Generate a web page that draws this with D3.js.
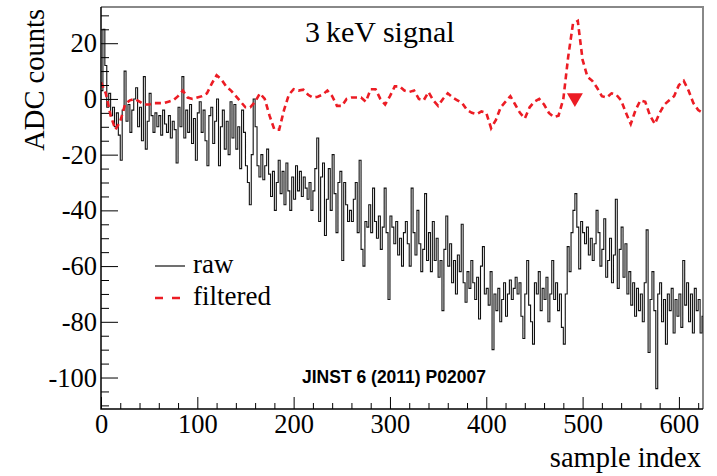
<!DOCTYPE html>
<html>
<head>
<meta charset="utf-8">
<script src="https://cdn.jsdelivr.net/npm/d3@7"></script>
<style>
  body { margin: 0; background: #fff; }
  svg { display: block; }
  .axis text { font-family: "Liberation Serif", "DejaVu Serif", serif; font-size: 26.5px; fill: #000; }
  .axis path { display: none; }
  .axis line { stroke: #000; stroke-width: 1; }
</style>
</head>
<body>
<div id="chart"></div>
<script>
// raw trace, one value per bin of 2 samples
const rawBinWidth = 2;
const rawValues = [
  3, 25, 12, -3, 2, -6, -3, -10, -5, -13,
  -22, -4, 10, -8, -2, -12, -4, 0, 4, -10,
  -3, -15, 8, -18, -8, 2, -6, -12, -5, -10,
  -6, -13, -4, -9, -12, -6, -14, -8, -11, -23,
  -3, -10, 8, -14, -4, -12, -2, -16, -7, -22,
  -5, -1, -12, -4, -15, -24, -6, -3, -16, -8,
  0, -24, -10, -4, -18, -8, -20, -1, -14, -2,
  -18, -10, -25, -4, -12, -24, -30, -38, -20, 0,
  -10, -24, -28, -20, -29, -24, -18, -27, -35, -26,
  -40, -30, -22, -34, -26, -38, -23, -33, -40, -28,
  -36, -24, -33, -26, -35, -28, -32, -36, -30, -40,
  -33, -25, -14, -44, -28, -23, -49, -36, -25, -40,
  -20, -34, -48, -30, -26, -58, -30, -38, -44, -40,
  -44, -36, -30, -48, -22, -54, -60, -44, -46, -38,
  -48, -32, -44, -50, -42, -54, -46, -32, -48, -72,
  -42, -46, -52, -44, -56, -50, -60, -48, -44, -52,
  -60, -32, -48, -56, -40, -52, -62, -54, -34, -58,
  -48, -62, -44, -58, -50, -64, -58, -76, -54, -42,
  -60, -52, -66, -58, -70, -56, -62, -45, -66, -73,
  -62, -68, -58, -66, -72, -64, -79, -60, -53, -70,
  -68, -74, -62, -90, -70, -76, -68, -80, -72, -66,
  -78, -70, -65, -72, -68, -64, -70, -66, -78, -86,
  -70, -58, -74, -80, -88, -66, -70, -62, -76, -68,
  -72, -64, -80, -70, -58, -72, -66, -76, -70, -82,
  -88, -70, -53, -62, -48, -40, -34, -46, -61, -44,
  -48, -52, -46, -56, -50, -58, -52, -40, -48, -60,
  -54, -43, -64, -58, -50, -66, -56, -36, -68, -54,
  -46, -64, -52, -70, -62, -74, -66, -78, -68, -76,
  -70, -80, -66, -47, -91, -72, -62, -76, -104, -70,
  -66, -80, -72, -88, -70, -76, -68, -84, -72, -78,
  -70, -82, -58, -74, -66, -80, -70, -84, -68, -76,
  -72, -84, -78
];

// filtered trace, one point every 5 samples
const filteredStep = 5;
const filteredValues = [
  6, 2, -6, -11, -8, -2, -0.5, 0, -1, -2,
  -2, -1.5, -1.5, -1.5, -1, -0.5, 1, 3, 0.5, 0,
  0.5, 1, 2, 5.5, 8.5, 7, 4.5, 3, 1, -1,
  -3, -3, -1, 2, 0, -6, -11, -11, -4, 1.5,
  3.5, 3, 3.3, 1.5, 0.5, 0.8, 1.5, 3, 1, -2.5,
  -2.5, 0, 0.5, 0.5, 0.5, -1, 3.5, 3.5, 0, -2,
  1, 4.5, 4.5, 3, 2.5, 3, 0, -0.5, 2.5, -0.5,
  -2.5, 0, 2, 0.5, -0.5, -1.5, -4, -5, -5.5, -4.5,
  -5, -10.5, -7.5, -3, -1, 1, -2, -5, -7, -3,
  -1, 0, -2, -5, -6.5, -6, 0, 15, 27, 28,
  14, 8, 6.5, 4, 1, 0.5, 2, 1.5, -0.5, -5,
  -9, -4, -0.5, -1, -6, -9, -5, -2, -0.5, 1,
  5, 6.5, 3, -1.5, -4, -5
];

// trigger marker
const triggerSample = [492];
const triggerValue = [0.4];

const xMajorTicks = [0, 100, 200, 300, 400, 500, 600];
const xMinorTicks = d3.range(0, 625, 20).filter(d => d % 100 !== 0);
const yMajorTicks = [-100, -80, -60, -40, -20, 0, 20];
const yMinorTicks = d3.range(-110, 35, 5).filter(d => d % 20 !== 0);

const width = 717;
const height = 476;
const margin = { top: 7, right: 14, bottom: 67, left: 101 };
const red = "#ec1c24";

const x = d3.scaleLinear()
  .domain([0, 625])
  .range([margin.left, width - margin.right]);

const y = d3.scaleLinear()
  .domain([-111.3, 33])
  .range([height - margin.bottom, margin.top]);

const svg = d3.select("#chart")
  .append("svg")
  .attr("width", width)
  .attr("height", height);

svg.append("defs")
  .append("clipPath")
  .attr("id", "plot-clip")
  .append("rect")
  .attr("x", margin.left)
  .attr("y", margin.top)
  .attr("width", width - margin.right - margin.left)
  .attr("height", height - margin.bottom - margin.top);

// frame: top and right edges are grey
svg.append("path")
  .attr("d", `M${margin.left},${margin.top}H${width - margin.right}V${height - margin.bottom}`)
  .attr("fill", "none")
  .attr("stroke", "#888")
  .attr("stroke-width", 2);

const plot = svg.append("g").attr("clip-path", "url(#plot-clip)");

// raw as a step histogram
const rawPoints = rawValues.map((v, i) => [i * rawBinWidth, v]);
rawPoints.push([rawValues.length * rawBinWidth, rawValues[rawValues.length - 1]]);

plot.append("path")
  .datum(rawPoints)
  .attr("fill", "none")
  .attr("stroke", "#111")
  .attr("stroke-width", 1.1)
  .attr("d", d3.line()
    .curve(d3.curveStepAfter)
    .x(d => x(d[0]))
    .y(d => y(d[1])));

// filtered
plot.append("path")
  .datum(filteredValues.map((v, i) => [i * filteredStep, v]))
  .attr("fill", "none")
  .attr("stroke", red)
  .attr("stroke-width", 2.6)
  .attr("stroke-dasharray", "6,4")
  .attr("d", d3.line()
    .x(d => x(d[0]))
    .y(d => y(d[1])));

// trigger marker (downward triangle)
svg.append("g")
  .selectAll("path")
  .data(triggerSample.map((s, i) => [s, triggerValue[i]]))
  .join("path")
  .attr("transform", d => `translate(${x(d[0])},${y(d[1])}) rotate(180)`)
  .attr("d", d3.symbol(d3.symbolTriangle, 110))
  .attr("fill", red);

// axes
const fmt = d => String(d);

svg.append("g")
  .attr("class", "axis")
  .attr("transform", `translate(0,${height - margin.bottom})`)
  .call(d3.axisBottom(x).tickValues(xMinorTicks).tickSize(-6).tickSizeOuter(0).tickFormat(""));

svg.append("g")
  .attr("class", "axis")
  .attr("transform", `translate(0,${height - margin.bottom})`)
  .call(d3.axisBottom(x).tickValues(xMajorTicks).tickSize(-12).tickSizeOuter(0).tickPadding(5).tickFormat(fmt));

svg.append("g")
  .attr("class", "axis")
  .attr("transform", `translate(${margin.left},0)`)
  .call(d3.axisLeft(y).tickValues(yMinorTicks).tickSize(-8).tickSizeOuter(0).tickFormat(""));

svg.append("g")
  .attr("class", "axis")
  .attr("transform", `translate(${margin.left},0)`)
  .call(d3.axisLeft(y).tickValues(yMajorTicks).tickSize(-17).tickSizeOuter(0).tickPadding(4).tickFormat(fmt));

// axis lines
svg.append("path")
  .attr("d", `M${margin.left},${margin.top}V${height - margin.bottom}H${width - margin.right}`)
  .attr("fill", "none")
  .attr("stroke", "#000")
  .attr("stroke-width", 1.5);

const serif = "'Liberation Serif', 'DejaVu Serif', serif";

svg.append("text")
  .attr("x", width - margin.right - 2)
  .attr("y", 467)
  .attr("text-anchor", "end")
  .attr("font-family", serif)
  .attr("font-size", 28.5)
  .text("sample index");

svg.append("text")
  .attr("transform", "translate(44,9) rotate(-90)")
  .attr("text-anchor", "end")
  .attr("font-family", serif)
  .attr("font-size", 28.5)
  .text("ADC counts");

svg.append("text")
  .attr("x", 305)
  .attr("y", 42)
  .attr("font-family", serif)
  .attr("font-size", 30)
  .text("3\u2009keV signal");

// legend
const legend = svg.append("g");
legend.append("line")
  .attr("x1", 155).attr("x2", 185)
  .attr("y1", 266).attr("y2", 266)
  .attr("stroke", "#111").attr("stroke-width", 1.2);
legend.append("line")
  .attr("x1", 155).attr("x2", 185)
  .attr("y1", 298).attr("y2", 298)
  .attr("stroke", red).attr("stroke-width", 2.6)
  .attr("stroke-dasharray", "8,9");
legend.append("text")
  .attr("x", 193).attr("y", 273)
  .attr("font-family", serif).attr("font-size", 27)
  .text("raw");
legend.append("text")
  .attr("x", 193).attr("y", 305)
  .attr("font-family", serif).attr("font-size", 27)
  .text("filtered");

svg.append("text")
  .attr("x", 302)
  .attr("y", 383)
  .attr("font-family", "'Liberation Sans', Arial, sans-serif")
  .attr("font-weight", "bold")
  .attr("font-size", 17.5)
  .text("JINST 6 (2011) P02007");
</script>
</body>
</html>
